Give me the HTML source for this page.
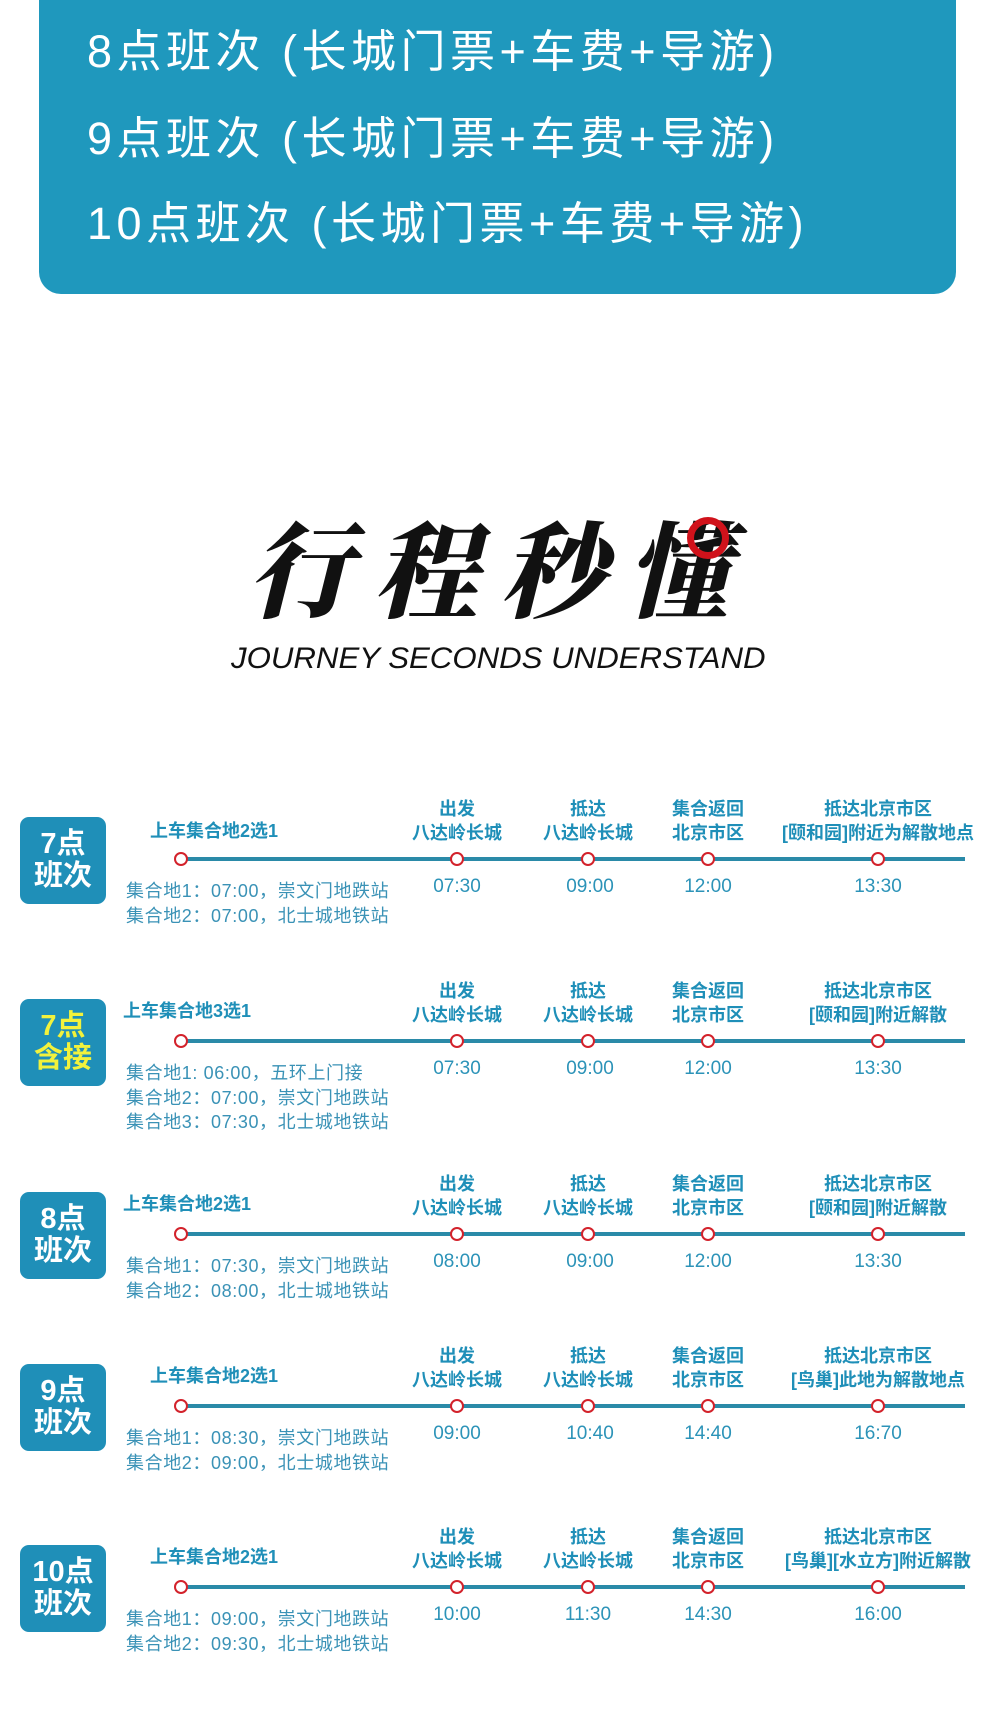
<!DOCTYPE html>
<html><head><meta charset="utf-8">
<style>
*{margin:0;padding:0;box-sizing:border-box}
body{width:1000px;height:1709px;background:#fff;position:relative;overflow:hidden;font-family:"Liberation Sans","Noto Sans CJK SC",sans-serif}
.top{position:absolute;left:39px;top:0;width:917px;height:294px;background:#1f98bd;border-radius:0 0 22px 22px}
.tl{position:absolute;left:87px;color:#fff;font-size:45px;letter-spacing:4.5px;white-space:nowrap;line-height:1}
.title{position:absolute;left:0;width:1000px;top:512px;text-align:center;font-family:"Noto Serif CJK SC","Noto Sans CJK SC",serif;font-weight:900;font-size:104px;letter-spacing:22px;color:#111;line-height:1;font-style:italic}
.ring{position:absolute;left:687px;top:517px;width:42px;height:42px;border:7px solid #d0121b;border-radius:50%}
.sub{position:absolute;left:231px;top:642px;text-align:left;font-size:30px;font-style:italic;color:#111;white-space:nowrap;transform:scaleX(1.04);transform-origin:left}
.sec{position:absolute;left:0;width:1000px;height:1px}
.badge{position:absolute;left:20px;top:-42px;width:86px;height:87px;background:#1f8fb8;border-radius:9px;color:#fff;font-weight:bold;font-size:29px;line-height:32px;text-align:center;padding-top:11px}
.badge.y{color:#f2f23c}
.line{position:absolute;left:181px;width:784px;top:-2px;height:4px;background:#2a8aa8}
.dot{position:absolute;top:-7px;width:14px;height:14px;margin-left:-7px;border:2.5px solid #d3222b;background:#fff;border-radius:50%}
.h{position:absolute;transform:translateX(-50%);text-align:center;white-space:nowrap;color:#1f8fb8;font-weight:bold;font-size:18px;line-height:24px;top:-62px}
.fl{position:absolute;white-space:nowrap;color:#1f8fb8;font-weight:bold;font-size:18px;top:-44px}
.t{position:absolute;transform:translateX(-50%);color:#2c93b8;font-size:19px;top:17px;white-space:nowrap}
.m{position:absolute;left:126px;top:20px;color:#3a92b6;font-size:18px;letter-spacing:0.6px;line-height:24.5px;white-space:nowrap}
</style></head><body>
<div class="top"></div>
<div class="tl" style="top:29px">8点班次 (长城门票+车费+导游)</div>
<div class="tl" style="top:116px">9点班次 (长城门票+车费+导游)</div>
<div class="tl" style="top:201px">10点班次 (长城门票+车费+导游)</div>

<div class="title">行程秒懂</div>
<div class="ring"></div>
<div class="sub">JOURNEY SECONDS UNDERSTAND</div>

<div class="sec" style="top:859px">
<div class="badge">7点<br>班次</div>
<div class="line"></div>
<div class="dot" style="left:181px"></div><div class="dot" style="left:457px"></div><div class="dot" style="left:588px"></div><div class="dot" style="left:708px"></div><div class="dot" style="left:878px"></div>
<div class="fl" style="left:150px;top:-42px">上车集合地2选1</div>
<div class="h" style="left:457px">出发<br>八达岭长城</div>
<div class="h" style="left:588px">抵达<br>八达岭长城</div>
<div class="h" style="left:708px">集合返回<br>北京市区</div>
<div class="h" style="left:878px">抵达北京市区<br>[颐和园]附近为解散地点</div>
<div class="t" style="left:457px">07:30</div><div class="t" style="left:590px">09:00</div><div class="t" style="left:708px">12:00</div><div class="t" style="left:878px">13:30</div>
<div class="m">集合地1：07:00，崇文门地跌站<br>集合地2：07:00，北士城地铁站</div>
</div>

<div class="sec" style="top:1041px">
<div class="badge y">7点<br>含接</div>
<div class="line"></div>
<div class="dot" style="left:181px"></div><div class="dot" style="left:457px"></div><div class="dot" style="left:588px"></div><div class="dot" style="left:708px"></div><div class="dot" style="left:878px"></div>
<div class="fl" style="left:123px">上车集合地3选1</div>
<div class="h" style="left:457px">出发<br>八达岭长城</div>
<div class="h" style="left:588px">抵达<br>八达岭长城</div>
<div class="h" style="left:708px">集合返回<br>北京市区</div>
<div class="h" style="left:878px">抵达北京市区<br>[颐和园]附近解散</div>
<div class="t" style="left:457px">07:30</div><div class="t" style="left:590px">09:00</div><div class="t" style="left:708px">12:00</div><div class="t" style="left:878px">13:30</div>
<div class="m">集合地1: 06:00，五环上门接<br>集合地2：07:00，崇文门地跌站<br>集合地3：07:30，北士城地铁站</div>
</div>

<div class="sec" style="top:1234px">
<div class="badge">8点<br>班次</div>
<div class="line"></div>
<div class="dot" style="left:181px"></div><div class="dot" style="left:457px"></div><div class="dot" style="left:588px"></div><div class="dot" style="left:708px"></div><div class="dot" style="left:878px"></div>
<div class="fl" style="left:123px">上车集合地2选1</div>
<div class="h" style="left:457px">出发<br>八达岭长城</div>
<div class="h" style="left:588px">抵达<br>八达岭长城</div>
<div class="h" style="left:708px">集合返回<br>北京市区</div>
<div class="h" style="left:878px">抵达北京市区<br>[颐和园]附近解散</div>
<div class="t" style="left:457px">08:00</div><div class="t" style="left:590px">09:00</div><div class="t" style="left:708px">12:00</div><div class="t" style="left:878px">13:30</div>
<div class="m">集合地1：07:30，崇文门地跌站<br>集合地2：08:00，北士城地铁站</div>
</div>

<div class="sec" style="top:1406px">
<div class="badge">9点<br>班次</div>
<div class="line"></div>
<div class="dot" style="left:181px"></div><div class="dot" style="left:457px"></div><div class="dot" style="left:588px"></div><div class="dot" style="left:708px"></div><div class="dot" style="left:878px"></div>
<div class="fl" style="left:150px">上车集合地2选1</div>
<div class="h" style="left:457px">出发<br>八达岭长城</div>
<div class="h" style="left:588px">抵达<br>八达岭长城</div>
<div class="h" style="left:708px">集合返回<br>北京市区</div>
<div class="h" style="left:878px">抵达北京市区<br>[鸟巢]此地为解散地点</div>
<div class="t" style="left:457px">09:00</div><div class="t" style="left:590px">10:40</div><div class="t" style="left:708px">14:40</div><div class="t" style="left:878px">16:70</div>
<div class="m">集合地1：08:30，崇文门地跌站<br>集合地2：09:00，北士城地铁站</div>
</div>

<div class="sec" style="top:1587px">
<div class="badge">10点<br>班次</div>
<div class="line"></div>
<div class="dot" style="left:181px"></div><div class="dot" style="left:457px"></div><div class="dot" style="left:588px"></div><div class="dot" style="left:708px"></div><div class="dot" style="left:878px"></div>
<div class="fl" style="left:150px">上车集合地2选1</div>
<div class="h" style="left:457px">出发<br>八达岭长城</div>
<div class="h" style="left:588px">抵达<br>八达岭长城</div>
<div class="h" style="left:708px">集合返回<br>北京市区</div>
<div class="h" style="left:878px">抵达北京市区<br>[鸟巢][水立方]附近解散</div>
<div class="t" style="left:457px">10:00</div><div class="t" style="left:588px">11:30</div><div class="t" style="left:708px">14:30</div><div class="t" style="left:878px">16:00</div>
<div class="m">集合地1：09:00，崇文门地跌站<br>集合地2：09:30，北士城地铁站</div>
</div>
</body></html>
